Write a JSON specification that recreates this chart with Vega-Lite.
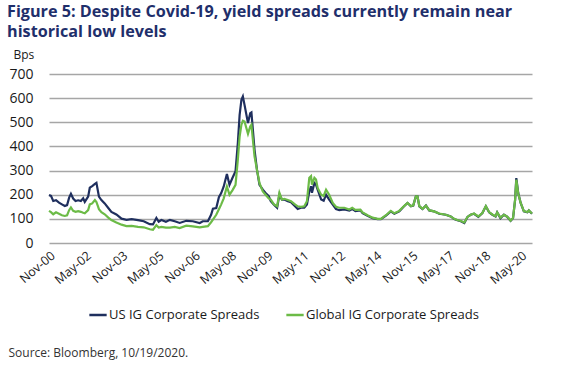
{
  "$schema": "https://vega.github.io/schema/vega-lite/v6.json",
  "width": 483,
  "height": 169,
  "autosize": {"type": "none"},
  "padding": {"left": 49, "top": 74, "right": 36, "bottom": 122},
  "background": "white",
  "config": {"font": "Open Sans", "view": {"stroke": null}},
  "title": {
    "text": ["Figure 5: Despite Covid-19, yield spreads currently remain near", "historical low levels"],
    "anchor": "start",
    "frame": "group",
    "dx": -42,
    "offset": 8,
    "font": "Open Sans",
    "fontSize": 16.2,
    "fontWeight": "bold",
    "color": "#1f2f6b",
    "lineHeight": 20
  },
  "data": {
    "values": [
      {"date": "2000-11-01", "us": 199, "global": 133},
      {"date": "2000-12-01", "us": 195, "global": 128},
      {"date": "2001-01-04", "us": 174, "global": 119},
      {"date": "2001-02-15", "us": 177, "global": 127},
      {"date": "2001-04-01", "us": 167, "global": 121},
      {"date": "2001-05-15", "us": 160, "global": 115},
      {"date": "2001-06-28", "us": 153, "global": 112},
      {"date": "2001-08-01", "us": 157, "global": 115},
      {"date": "2001-09-01", "us": 188, "global": 136},
      {"date": "2001-09-28", "us": 204, "global": 147},
      {"date": "2001-11-01", "us": 184, "global": 133},
      {"date": "2001-12-07", "us": 174, "global": 129},
      {"date": "2002-01-15", "us": 177, "global": 132},
      {"date": "2002-02-25", "us": 174, "global": 129},
      {"date": "2002-04-01", "us": 185, "global": 125},
      {"date": "2002-04-25", "us": 170, "global": 123},
      {"date": "2002-06-15", "us": 192, "global": 136},
      {"date": "2002-07-10", "us": 229, "global": 160},
      {"date": "2002-08-15", "us": 236, "global": 164},
      {"date": "2002-09-25", "us": 245, "global": 178},
      {"date": "2002-10-18", "us": 249, "global": 170},
      {"date": "2002-11-25", "us": 192, "global": 140},
      {"date": "2003-01-01", "us": 178, "global": 128},
      {"date": "2003-02-20", "us": 164, "global": 119},
      {"date": "2003-04-15", "us": 145, "global": 105},
      {"date": "2003-06-01", "us": 129, "global": 95},
      {"date": "2003-08-15", "us": 118, "global": 85},
      {"date": "2003-11-01", "us": 101, "global": 76},
      {"date": "2004-01-15", "us": 96, "global": 70},
      {"date": "2004-04-01", "us": 99, "global": 71},
      {"date": "2004-07-07", "us": 95, "global": 67},
      {"date": "2004-10-01", "us": 90, "global": 65},
      {"date": "2005-01-01", "us": 78, "global": 57},
      {"date": "2005-02-18", "us": 77, "global": 55},
      {"date": "2005-04-10", "us": 104, "global": 74},
      {"date": "2005-05-15", "us": 88, "global": 64},
      {"date": "2005-06-25", "us": 95, "global": 67},
      {"date": "2005-09-01", "us": 88, "global": 64},
      {"date": "2005-11-01", "us": 96, "global": 64},
      {"date": "2006-01-12", "us": 90, "global": 67},
      {"date": "2006-03-28", "us": 83, "global": 62},
      {"date": "2006-07-05", "us": 92, "global": 72},
      {"date": "2006-10-12", "us": 90, "global": 69},
      {"date": "2007-01-25", "us": 83, "global": 65},
      {"date": "2007-03-12", "us": 90, "global": 67},
      {"date": "2007-05-28", "us": 90, "global": 70},
      {"date": "2007-07-15", "us": 117, "global": 86},
      {"date": "2007-08-12", "us": 142, "global": 97},
      {"date": "2007-10-01", "us": 145, "global": 117},
      {"date": "2007-11-10", "us": 190, "global": 140},
      {"date": "2007-12-15", "us": 207, "global": 160},
      {"date": "2008-01-22", "us": 234, "global": 185},
      {"date": "2008-03-10", "us": 286, "global": 234},
      {"date": "2008-04-18", "us": 241, "global": 200},
      {"date": "2008-06-01", "us": 269, "global": 218},
      {"date": "2008-07-18", "us": 297, "global": 241},
      {"date": "2008-08-22", "us": 414, "global": 345},
      {"date": "2008-09-18", "us": 531, "global": 441},
      {"date": "2008-10-15", "us": 593, "global": 490},
      {"date": "2008-11-06", "us": 607, "global": 506},
      {"date": "2008-12-01", "us": 572, "global": 503},
      {"date": "2009-01-22", "us": 497, "global": 452},
      {"date": "2009-02-25", "us": 538, "global": 483},
      {"date": "2009-03-15", "us": 541, "global": 490},
      {"date": "2009-04-06", "us": 469, "global": 428},
      {"date": "2009-05-01", "us": 386, "global": 359},
      {"date": "2009-06-07", "us": 303, "global": 303},
      {"date": "2009-07-15", "us": 241, "global": 248},
      {"date": "2009-09-03", "us": 221, "global": 214},
      {"date": "2009-10-15", "us": 207, "global": 200},
      {"date": "2009-12-01", "us": 194, "global": 185},
      {"date": "2010-01-01", "us": 173, "global": 180},
      {"date": "2010-02-18", "us": 159, "global": 160},
      {"date": "2010-04-07", "us": 146, "global": 152},
      {"date": "2010-05-12", "us": 201, "global": 208},
      {"date": "2010-06-18", "us": 180, "global": 180},
      {"date": "2010-07-25", "us": 180, "global": 183},
      {"date": "2010-09-15", "us": 173, "global": 178},
      {"date": "2010-11-03", "us": 169, "global": 173},
      {"date": "2010-12-22", "us": 155, "global": 162},
      {"date": "2011-02-12", "us": 141, "global": 152},
      {"date": "2011-04-01", "us": 146, "global": 150},
      {"date": "2011-05-22", "us": 146, "global": 152},
      {"date": "2011-07-01", "us": 159, "global": 173},
      {"date": "2011-08-06", "us": 214, "global": 270},
      {"date": "2011-09-01", "us": 235, "global": 277},
      {"date": "2011-09-15", "us": 208, "global": 242},
      {"date": "2011-10-22", "us": 249, "global": 270},
      {"date": "2011-11-15", "us": 242, "global": 263},
      {"date": "2011-12-10", "us": 221, "global": 228},
      {"date": "2012-02-01", "us": 180, "global": 200},
      {"date": "2012-03-10", "us": 175, "global": 195},
      {"date": "2012-04-15", "us": 200, "global": 221},
      {"date": "2012-06-01", "us": 180, "global": 200},
      {"date": "2012-07-25", "us": 159, "global": 166},
      {"date": "2012-09-12", "us": 141, "global": 150},
      {"date": "2012-11-01", "us": 136, "global": 146},
      {"date": "2013-01-15", "us": 139, "global": 146},
      {"date": "2013-04-01", "us": 134, "global": 139},
      {"date": "2013-05-15", "us": 141, "global": 146},
      {"date": "2013-07-01", "us": 132, "global": 137},
      {"date": "2013-09-15", "us": 135, "global": 138},
      {"date": "2013-10-18", "us": 124, "global": 127},
      {"date": "2014-01-01", "us": 113, "global": 115},
      {"date": "2014-03-18", "us": 103, "global": 105},
      {"date": "2014-06-01", "us": 99, "global": 100},
      {"date": "2014-07-22", "us": 99, "global": 100},
      {"date": "2014-10-06", "us": 113, "global": 115},
      {"date": "2014-12-18", "us": 131, "global": 133},
      {"date": "2015-02-10", "us": 121, "global": 123},
      {"date": "2015-04-25", "us": 131, "global": 133},
      {"date": "2015-07-06", "us": 152, "global": 153},
      {"date": "2015-08-28", "us": 166, "global": 166},
      {"date": "2015-10-18", "us": 152, "global": 153},
      {"date": "2015-11-22", "us": 155, "global": 156},
      {"date": "2016-01-01", "us": 193, "global": 193},
      {"date": "2016-01-25", "us": 193, "global": 193},
      {"date": "2016-02-22", "us": 152, "global": 153},
      {"date": "2016-04-10", "us": 141, "global": 142},
      {"date": "2016-06-01", "us": 155, "global": 155},
      {"date": "2016-07-20", "us": 135, "global": 136},
      {"date": "2016-10-01", "us": 131, "global": 131},
      {"date": "2016-12-18", "us": 121, "global": 122},
      {"date": "2017-03-28", "us": 117, "global": 117},
      {"date": "2017-06-10", "us": 110, "global": 110},
      {"date": "2017-08-01", "us": 99, "global": 100},
      {"date": "2017-09-18", "us": 94, "global": 95},
      {"date": "2017-11-10", "us": 90, "global": 91},
      {"date": "2018-01-01", "us": 83, "global": 85},
      {"date": "2018-02-18", "us": 108, "global": 108},
      {"date": "2018-04-06", "us": 117, "global": 117},
      {"date": "2018-05-28", "us": 121, "global": 122},
      {"date": "2018-08-01", "us": 108, "global": 110},
      {"date": "2018-10-01", "us": 124, "global": 124},
      {"date": "2018-11-22", "us": 152, "global": 153},
      {"date": "2019-01-10", "us": 127, "global": 128},
      {"date": "2019-03-01", "us": 117, "global": 118},
      {"date": "2019-04-18", "us": 110, "global": 111},
      {"date": "2019-05-12", "us": 127, "global": 127},
      {"date": "2019-07-01", "us": 103, "global": 105},
      {"date": "2019-08-22", "us": 117, "global": 117},
      {"date": "2019-10-12", "us": 108, "global": 109},
      {"date": "2019-12-01", "us": 92, "global": 93},
      {"date": "2020-01-07", "us": 103, "global": 104},
      {"date": "2020-02-07", "us": 179, "global": 180},
      {"date": "2020-02-25", "us": 269, "global": 262},
      {"date": "2020-03-25", "us": 207, "global": 205},
      {"date": "2020-05-01", "us": 166, "global": 166},
      {"date": "2020-06-18", "us": 131, "global": 132},
      {"date": "2020-08-10", "us": 127, "global": 128},
      {"date": "2020-09-01", "us": 135, "global": 135},
      {"date": "2020-10-19", "us": 121, "global": 122}
    ]
  },
  "transform": [{"fold": ["us", "global"], "as": ["series", "bps"]}],
  "encoding": {
    "x": {
      "field": "date",
      "type": "temporal",
      "scale": {"domain": ["2000-11-01", "2020-10-19"]},
      "axis": {
        "values": ["2000-11-01", "2002-05-01", "2003-11-01", "2005-05-01", "2006-11-01", "2008-05-01", "2009-11-01", "2011-05-01", "2012-11-01", "2014-05-01", "2015-11-01", "2017-05-01", "2018-11-01", "2020-05-01"],
        "format": "%b-%y",
        "labelAngle": -40,
        "labelOverlap": false,
        "labelFlush": false,
        "labelFontSize": 12.5,
        "labelColor": "#1a1a1a",
        "labelPadding": 6,
        "ticks": false,
        "domain": false,
        "grid": false,
        "title": "Source: Bloomberg, 10/19/2020.",
        "titleX": -41,
        "titleY": 113,
        "titleAlign": "left",
        "titleAnchor": "start",
        "titleBaseline": "alphabetic",
        "titleFontSize": 12,
        "titleFontWeight": "normal",
        "titleColor": "#333333"
      }
    },
    "y": {
      "field": "bps",
      "type": "quantitative",
      "scale": {"domain": [0, 700], "nice": false},
      "axis": {
        "values": [0, 100, 200, 300, 400, 500, 600, 700],
        "title": "Bps",
        "titleAngle": 0,
        "titleAlign": "left",
        "titleBaseline": "alphabetic",
        "titleX": -36,
        "titleY": -16,
        "titleFontSize": 12,
        "titleFontWeight": "normal",
        "titleColor": "#1a1a1a",
        "labelFontSize": 14,
        "labelColor": "#1a1a1a",
        "labelPadding": 16,
        "ticks": false,
        "domain": false,
        "gridColor": "#a6a6a6",
        "gridWidth": 1.3
      }
    },
    "color": {
      "field": "series",
      "type": "nominal",
      "scale": {"domain": ["us", "global"], "range": ["#1f2f5e", "#6cbb47"]},
      "legend": {
        "orient": "none",
        "legendX": 39,
        "legendY": 231,
        "direction": "horizontal",
        "title": null,
        "symbolType": "stroke",
        "symbolStrokeWidth": 2.5,
        "symbolSize": 300,
        "labelOffset": 1,
        "labelFontSize": 13,
        "labelLimit": 300,
        "labelColor": "#1a1a1a",
        "columnPadding": 21,
        "labelExpr": "datum.value == 'us' ? 'US IG Corporate Spreads' : 'Global IG Corporate Spreads'"
      }
    }
  },
  "layer": [
    {"transform": [{"filter": "datum.series == 'us'"}], "mark": {"type": "line", "strokeWidth": 2.2}},
    {"transform": [{"filter": "datum.series == 'global'"}], "mark": {"type": "line", "strokeWidth": 2.2}}
  ]
}
